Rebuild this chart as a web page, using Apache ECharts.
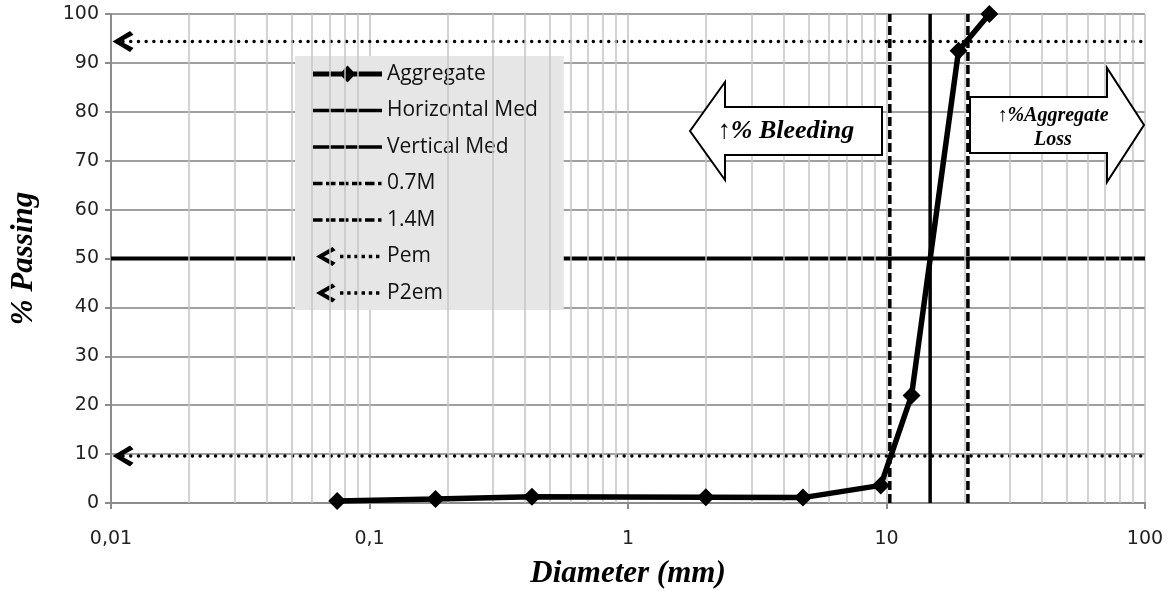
<!DOCTYPE html>
<html><head><meta charset="utf-8">
<script src="https://cdn.jsdelivr.net/npm/echarts@6/dist/echarts.min.js"></script>
<style>html,body{margin:0;padding:0;background:#fff}#c{width:1174px;height:600px}</style>
</head><body><div id="c"></div>
<script>
// ---- data ----
const diameters = [0.075, 0.18, 0.425, 2.0, 4.75, 9.5, 12.5, 19, 25];
const passing   = [0.4, 0.8, 1.3, 1.2, 1.1, 3.6, 22, 92.5, 100];
const verticalMed = 14.75;
const horizontalMed = 50;
const m07 = 10.3;
const m14 = 20.65;
const pem = 94.4;
const p2em = 9.6;
const arrowStartX = 0.01113;
const xMin = 0.01, xMax = 100;
const yMin = 0, yMax = 100, yStep = 10;
const decades = [0.01, 0.1, 1, 10];
const minorFactors = [2, 3, 4, 5, 6, 7, 8, 9];
const legendNames = ['Aggregate', 'Horizontal Med', 'Vertical Med', '0.7M', '1.4M', 'Pem', 'P2em'];
const bleedingText = '↑% Bleeding';
const lossText = '↑%Aggregate\nLoss';

// ---- build ----
const minorLines = [];
decades.forEach(d => minorFactors.forEach(k => minorLines.push({ xAxis: +(d * k).toPrecision(3) })));

const chevron = 'path://M17.5,0 L0,10.5 L17.5,21 L21,17.2 L8.6,10.5 L21,3.8 Z';
const A = 'M0,0h0.01v0.01z M69,20h-0.01v-0.01z ';
let dots = '';
for (let i = 0; i < 6; i++) dots += ' M' + (27 + i * 7.2) + ',8.3h3.4v3.4h-3.4z';
const icons = {
  agg: 'path://' + A + 'M0,7.5H69V12.5H0Z M34.5,1.5L42.5,10L34.5,18.5L26.5,10Z',
  solid: 'path://' + A + 'M0,8.2H69V11.8H0Z',
  dashed: 'path://' + A + 'M0,8.2h9.5v3.6h-9.5z M13,8.2h9.5v3.6h-9.5z M26,8.2h9.5v3.6h-9.5z M39,8.2h9.5v3.6h-9.5z M52,8.2h9.5v3.6h-9.5z M65,8.2h3.5v3.6h-3.5z',
  arrow: 'path://' + A + 'M19.5,0.5 L3,10 L19.5,19.5 L22.6,16.2 L11,10 L22.6,3.8 Z' + dots
};
const iconFor = [icons.agg, icons.solid, icons.solid, icons.dashed, icons.dashed, icons.arrow, icons.arrow];

const dotted = { color: '#000', width: 3.5, type: [0.01, 7.7], cap: 'round' };
const dashed = { color: '#000', width: 3.5, type: [9, 4] };
const titleFont = { fontFamily: 'Liberation Serif', fontStyle: 'italic', fontWeight: 'bold', fontSize: 31, color: '#000' };

const chart = echarts.init(document.getElementById('c'), null, { renderer: 'canvas' });
chart.setOption({
  animation: false,
  backgroundColor: '#fff',
  grid: { left: 111, right: 29, top: 14, bottom: 97 },
  xAxis: {
    type: 'log', logBase: 10, min: xMin, max: xMax,
    name: 'Diameter (mm)', nameLocation: 'middle', nameGap: 55,
    nameTextStyle: titleFont,
    axisLine: { lineStyle: { color: '#8c8c8c', width: 2 } },
    axisTick: { show: true, inside: false, length: 6, lineStyle: { color: '#8c8c8c', width: 2 } },
    axisLabel: { margin: 27, fontFamily: 'DejaVu Sans', fontSize: 19, color: '#222',
      formatter: v => String(v).replace('.', ',') },
    splitLine: { show: true, lineStyle: { color: '#c0c0c0', width: 1.5 } }
  },
  yAxis: {
    type: 'value', min: yMin, max: yMax, interval: yStep,
    name: '% Passing', nameLocation: 'middle', nameGap: 72,
    nameTextStyle: titleFont,
    axisLine: { show: true, lineStyle: { color: '#8c8c8c', width: 2 } },
    axisTick: { show: true, inside: false, length: 6, lineStyle: { color: '#8c8c8c', width: 2 } },
    axisLabel: { margin: 12, fontFamily: 'DejaVu Sans', fontSize: 19, color: '#222' },
    splitLine: { show: true, lineStyle: { color: '#a0a0a0', width: 2 } }
  },
  legend: {
    orient: 'vertical', left: 295, top: 56,
    padding: [7, 26, 6, 18],
    backgroundColor: '#e6e6e6',
    itemWidth: 69, itemHeight: 20, itemGap: 14.5,
    selectedMode: false,
    textStyle: { fontFamily: 'Open Sans', fontSize: 21, color: '#111', lineHeight: 22 },
    data: legendNames.map((n, i) => ({ name: n, icon: iconFor[i], itemStyle: { color: '#000', borderWidth: 0, opacity: 1 } }))
  },
  series: [
    { name: '_minor', type: 'line', data: [], z: 1, silent: true,
      markLine: { silent: true, symbol: ['none', 'none'], label: { show: false },
        lineStyle: { color: '#c4c4c4', width: 1.5, type: 'solid' }, data: minorLines } },
    { name: 'Horizontal Med', type: 'line', symbol: 'none', z: 3,
      data: [[xMin, horizontalMed], [xMax, horizontalMed]],
      lineStyle: { color: '#000', width: 4 } },
    { name: 'Vertical Med', type: 'line', symbol: 'none', z: 3,
      data: [[verticalMed, yMin], [verticalMed, yMax]],
      lineStyle: { color: '#000', width: 3.5 } },
    { name: '0.7M', type: 'line', symbol: 'none', z: 3,
      data: [[m07, yMin], [m07, yMax]], lineStyle: dashed },
    { name: '1.4M', type: 'line', symbol: 'none', z: 3,
      data: [[m14, yMin], [m14, yMax]], lineStyle: dashed },
    { name: 'Pem', type: 'line', z: 3, symbol: chevron, symbolSize: [21, 21], symbolKeepAspect: true, showSymbol: true,
      data: [{ value: [arrowStartX, pem] }, { value: [xMax, pem], symbol: 'none' }],
      lineStyle: dotted, itemStyle: { color: '#000', borderWidth: 0 } },
    { name: 'P2em', type: 'line', z: 3, symbol: chevron, symbolSize: [21, 21], symbolKeepAspect: true, showSymbol: true,
      data: [{ value: [arrowStartX, p2em] }, { value: [xMax, p2em], symbol: 'none' }],
      lineStyle: dotted, itemStyle: { color: '#000', borderWidth: 0 } },
    { name: 'Aggregate', type: 'line', z: 5, symbol: 'diamond', symbolSize: 18,
      data: diameters.map((d, i) => [d, passing[i]]),
      lineStyle: { color: '#000', width: 5.5 }, itemStyle: { color: '#000' } }
  ],
  graphic: [
    { type: 'polygon', z: 10,
      shape: { points: [[690, 131], [725, 82], [725, 107], [882, 107], [882, 155], [725, 155], [725, 180]] },
      style: { fill: '#fff', stroke: '#000', lineWidth: 2 } },
    { type: 'text', z: 11, x: 786, y: 131,
      style: { text: bleedingText, fontFamily: 'Liberation Serif', fontStyle: 'italic', fontWeight: 'bold',
        fontSize: 26, fill: '#000', align: 'center', verticalAlign: 'middle' } },
    { type: 'polygon', z: 10,
      shape: { points: [[970, 97], [1107, 97], [1107, 68], [1144, 125], [1107, 182], [1107, 153], [970, 153]] },
      style: { fill: '#fff', stroke: '#000', lineWidth: 2 } },
    { type: 'text', z: 11, x: 1053, y: 128,
      style: { text: lossText, fontFamily: 'Liberation Serif', fontStyle: 'italic', fontWeight: 'bold',
        fontSize: 20, lineHeight: 24, fill: '#000', align: 'center', verticalAlign: 'middle' } }
  ]
});
</script>
</body></html>
